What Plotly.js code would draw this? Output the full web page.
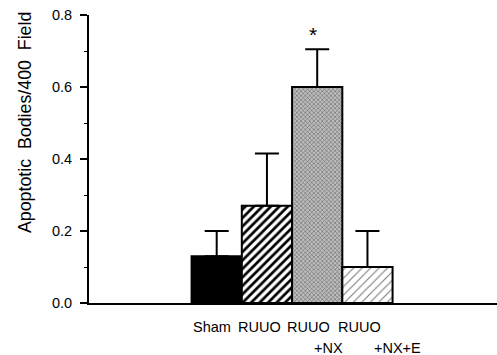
<!DOCTYPE html>
<html>
<head>
<meta charset="utf-8">
<script src="https://cdn.plot.ly/plotly-3.0.1.min.js"></script>
<style>html,body{margin:0;padding:0;background:#fff;}#chart{width:497px;height:355px;}</style>
</head>
<body>
<div id="chart"></div>
<script>
const categories = ['Sham', 'RUUO', 'RUUO +NX', 'RUUO +NX+E'];
const labelLine1 = ['Sham', 'RUUO', 'RUUO', 'RUUO'];
const labelLine2 = ['', '', '+NX', '+NX+E'];
const values = [0.13, 0.27, 0.60, 0.10];
const errors = [0.07, 0.145, 0.105, 0.10];
const significance = ['', '', '*', ''];
const yTickVals = [0.0, 0.2, 0.4, 0.6, 0.8];
const yTickText = ['0.0', '0.2', '0.4', '0.6', '0.8'];
const yTitle = 'Apoptotic  Bodies/400  Field';

const xpos = categories.map((c, i) => i);
const font = 'Liberation Sans, Arial, Helvetica, sans-serif';

const patterns = [
  {shape: '', fgcolor: '#000', bgcolor: '#000'},
  {shape: '/', fgcolor: '#000', bgcolor: '#fff', size: 6, solidity: 0.45},
  {shape: 'x', fgcolor: '#555', bgcolor: '#bdbdbd', size: 3, solidity: 0.3},
  {shape: '/', fgcolor: '#7a7a7a', bgcolor: '#fff', size: 6, solidity: 0.18}
];

const traces = xpos.map((x, i) => ({
  type: 'bar',
  x: [x],
  y: [values[i]],
  width: 1,
  name: categories[i],
  marker: {
    color: i === 0 ? '#000' : '#fff',
    line: {color: '#000', width: 2},
    pattern: patterns[i]
  },
  error_y: {
    type: 'data', symmetric: false, array: [errors[i]], arrayminus: [0],
    color: '#000', thickness: 2, width: 12
  },
  hoverinfo: 'skip'
}));

const line1Shift = [-5, -7, -8.5, -7.5];
const line2Shift = [0, 0, 11.5, 30.5];
const annotations = [];
xpos.forEach((x, i) => {
  annotations.push({x: x, xref: 'x', y: -0.082, yref: 'paper', text: labelLine1[i], showarrow: false,
    xshift: line1Shift[i], yanchor: 'middle', font: {family: font, size: 14.5, color: '#000'}});
  if (labelLine2[i]) annotations.push({x: x, xref: 'x', y: -0.155, yref: 'paper', text: labelLine2[i], showarrow: false,
    xshift: line2Shift[i], yanchor: 'middle', font: {family: font, size: 14.5, color: '#000'}});
  if (significance[i]) annotations.push({x: x, xref: 'x', y: values[i] + errors[i], yref: 'y', text: significance[i],
    showarrow: false, xshift: -4, yshift: 15, yanchor: 'middle', font: {family: font, size: 21, color: '#000'}});
});
annotations.push({x: -0.157, xref: 'paper', y: 0.628, yref: 'paper', text: yTitle, textangle: -90,
  showarrow: false, xanchor: 'center', yanchor: 'middle', font: {family: font, size: 17.8, color: '#000'}});

const layout = {
  width: 497, height: 355,
  margin: {l: 89, r: 0, t: 15, b: 52, pad: 0},
  paper_bgcolor: '#fff', plot_bgcolor: '#fff',
  showlegend: false,
  barmode: 'overlay',
  xaxis: {
    range: [-2.541, 5.578], showgrid: false, zeroline: false,
    showline: true, linecolor: '#000', linewidth: 1.5,
    showticklabels: false, ticks: '', fixedrange: true
  },
  yaxis: {
    range: [0, 0.8], showgrid: false, zeroline: false,
    showline: true, linecolor: '#000', linewidth: 2,
    tickvals: yTickVals, ticktext: yTickText,
    ticks: 'outside', ticklen: 7, tickwidth: 1.5, tickcolor: '#000',
    minor: {dtick: 0.1, ticks: 'outside', ticklen: 3, tickwidth: 1, tickcolor: '#000', showgrid: false},
    tickfont: {family: font, size: 14.5, color: '#000'},
    ticklabelstandoff: 5,
    fixedrange: true
  },
  annotations: annotations,
  font: {family: font, color: '#000'}
};

Plotly.newPlot('chart', traces, layout, {displayModeBar: false, staticPlot: true});
</script>
</body>
</html>
